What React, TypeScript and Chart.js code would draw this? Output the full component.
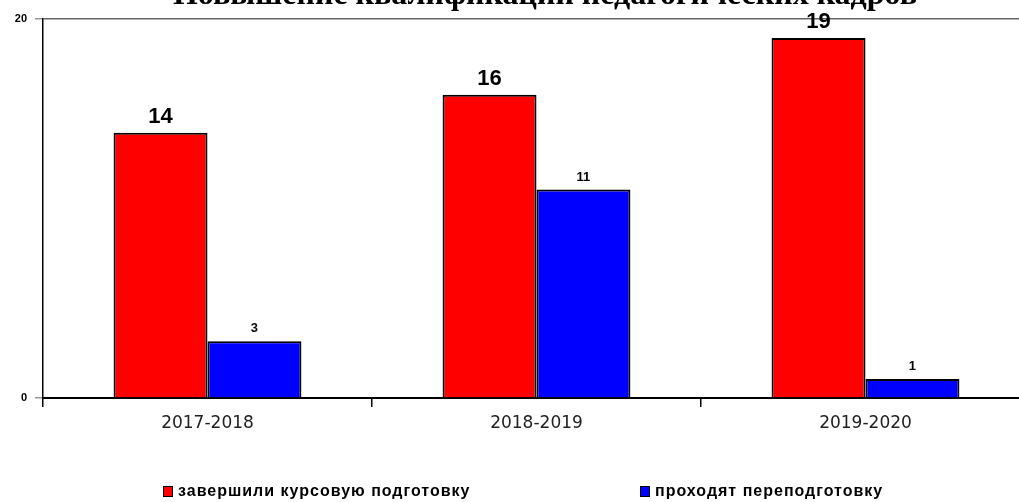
import React, { useEffect, useRef } from "react";
import { Chart, registerables } from "chart.js";

Chart.register(...registerables);

const titleText = "Повышение квалификации педагогических кадров";
const categories = ["2017-2018", "2018-2019", "2019-2020"];
const completedCourse = [14, 16, 19];
const retraining = [3, 11, 1];
const seriesNames = ["завершили курсовую подготовку", "проходят переподготовку"];
const seriesColors = ["#ff0000", "#0000ff"];
const yMin = 0;
const yMax = 20;

const CANVAS_W = 1040;
const CANVAS_H = 502;

const decorPlugin = {
  id: "decor",
  afterDatasetsDraw(chart: any) {
    const ctx = chart.ctx;
    ctx.save();
    ctx.fillStyle = "#000";
    ctx.textAlign = "center";
    ctx.textBaseline = "alphabetic";
    chart.data.datasets.forEach((ds: any, di: number) => {
      const meta = chart.getDatasetMeta(di);
      meta.data.forEach((bar: any, i: number) => {
        if (di === 0) {
          ctx.font = "bold 22px 'Liberation Sans', Arial, sans-serif";
          ctx.fillText(String(ds.data[i]), bar.x, bar.y - 10);
        } else {
          ctx.font = "bold 13px 'Liberation Sans', Arial, sans-serif";
          ctx.fillText(String(ds.data[i]), bar.x, bar.y - 9);
        }
      });
    });
    ctx.restore();
  },
  afterDraw(chart: any) {
    const ctx = chart.ctx;
    ctx.save();
    // title (partially above the visible area)
    ctx.fillStyle = "#000";
    ctx.textAlign = "center";
    ctx.textBaseline = "alphabetic";
    ctx.font = "bold 32px 'Liberation Serif', 'Times New Roman', serif";
    ctx.fillText(titleText, 545, 4);

    // legend
    const items = [
      { x: 163, label: seriesNames[0], color: seriesColors[0] },
      { x: 640, label: seriesNames[1], color: seriesColors[1] },
    ];
    ctx.font = "bold 16px 'Liberation Sans', Arial, sans-serif";
    (ctx as any).letterSpacing = "1px";
    ctx.textAlign = "left";
    ctx.textBaseline = "middle";
    items.forEach((it) => {
      ctx.fillStyle = it.color;
      ctx.fillRect(it.x, 486, 10, 11);
      ctx.strokeStyle = "#000";
      ctx.lineWidth = 1;
      ctx.strokeRect(it.x + 0.5, 486.5, 9, 10);
      ctx.fillStyle = "#000";
      ctx.fillText(it.label, it.x + 15, 492);
    });
    ctx.restore();
  },
};

export default function App() {
  const canvasRef = useRef<HTMLCanvasElement | null>(null);

  useEffect(() => {
    const canvas = canvasRef.current;
    if (!canvas) return;
    const chart = new Chart(canvas, {
      type: "bar",
      data: {
        labels: categories,
        datasets: [
          {
            label: seriesNames[0],
            data: completedCourse,
            backgroundColor: seriesColors[0],
            borderColor: "#000",
            borderWidth: 2,
            barPercentage: 1,
            categoryPercentage: 0.571,
          },
          {
            label: seriesNames[1],
            data: retraining,
            backgroundColor: seriesColors[1],
            borderColor: "#000",
            borderWidth: 2,
            barPercentage: 1,
            categoryPercentage: 0.571,
          },
        ],
      },
      options: {
        responsive: false,
        animation: false,
        devicePixelRatio: 1,
        layout: { padding: { top: 19, right: 10, left: 0, bottom: 0 } },
        plugins: {
          legend: { display: false },
          title: { display: false },
          tooltip: { enabled: false },
        },
        scales: {
          x: {
            ticks: {
              font: { family: "'DejaVu Sans', Arial, sans-serif", size: 17 },
              color: "#222",
              padding: 6,
            },
            grid: {
              offset: true,
              drawOnChartArea: false,
              tickLength: 9,
              color: "#000",
              tickColor: "#000",
              lineWidth: 1.5,
            },
            border: { display: true, color: "#000", width: 2 },
            afterFit: (s: any) => {
              s.height = 104;
            },
          },
          y: {
            min: yMin,
            max: yMax,
            ticks: {
              stepSize: yMax - yMin,
              font: { family: "'Liberation Sans', Arial, sans-serif", size: 11, weight: "bold" },
              color: "#000",
              padding: 8,
            },
            grid: {
              color: (c: any) => (c.tick && c.tick.value === yMax ? "#666" : "rgba(0,0,0,0)"),
              tickColor: "#999",
              tickLength: 8,
              lineWidth: 1.5,
            },
            border: { display: true, color: "#000", width: 1.5 },
            afterFit: (s: any) => {
              s.width = 43;
            },
          },
        },
      },
      plugins: [decorPlugin],
    } as any);
    return () => chart.destroy();
  }, []);

  return (
    <div
      style={{
        position: "absolute",
        left: 0,
        top: 0,
        width: 1019,
        height: 502,
        overflow: "hidden",
        background: "#fff",
      }}
    >
      <canvas
        ref={canvasRef}
        width={CANVAS_W}
        height={CANVAS_H}
        style={{ display: "block", width: CANVAS_W, height: CANVAS_H }}
      />
    </div>
  );
}
